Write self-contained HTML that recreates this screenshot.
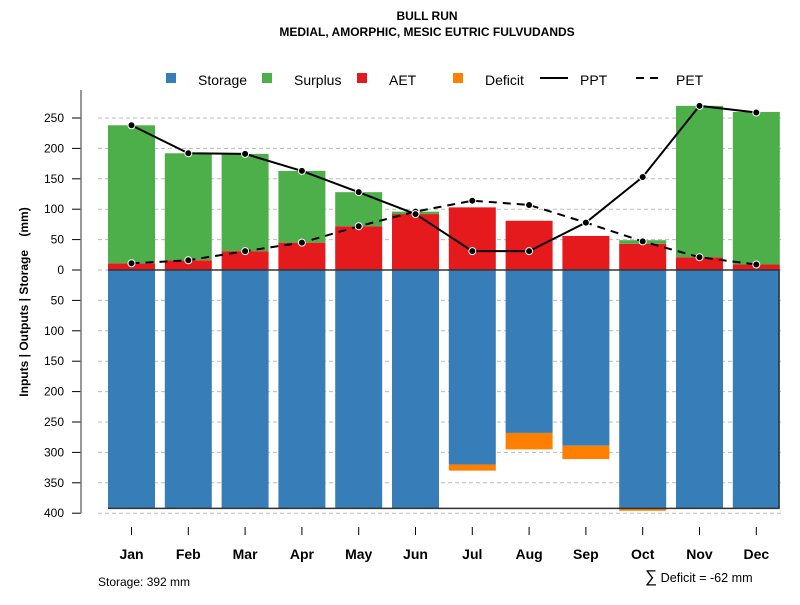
<!DOCTYPE html>
<html><head><meta charset="utf-8"><style>
body{margin:0;background:#fff;width:800px;height:600px;overflow:hidden;font-family:"Liberation Sans",sans-serif}
</style></head><body>
<svg id="c" width="800" height="600" xmlns="http://www.w3.org/2000/svg" font-family="Liberation Sans, sans-serif">
<text x="427" y="20" font-size="12" font-weight="bold" text-anchor="middle">BULL RUN</text>
<text x="427" y="36" font-size="12" font-weight="bold" text-anchor="middle">MEDIAL, AMORPHIC, MESIC EUTRIC FULVUDANDS</text>
<g id="grid"></g><g id="bars"></g><g id="lines"></g><g id="axes"></g>
<g font-size="14">
<rect x="166" y="73" width="10" height="10" fill="#377eb8"/><text x="198" y="85">Storage</text>
<rect x="262" y="73" width="10" height="10" fill="#4daf4a"/><text x="294" y="85">Surplus</text>
<rect x="357" y="73" width="10" height="10" fill="#e41a1c"/><text x="389" y="85">AET</text>
<rect x="453" y="73" width="10" height="10" fill="#ff7f00"/><text x="485" y="85">Deficit</text>
<line x1="540" y1="78" x2="568" y2="78" stroke="#000" stroke-width="2"/><text x="580" y="85">PPT</text>
<line x1="636" y1="78" x2="664" y2="78" stroke="#000" stroke-width="2" stroke-dasharray="8,6"/><text x="676" y="85">PET</text>
</g>
<text x="28" y="302" font-size="12" font-weight="bold" text-anchor="middle" transform="rotate(-90 28 302)">Inputs | Outputs | Storage&#160;&#160;&#160;&#160;(mm)</text>
<text x="98" y="586" font-size="12">Storage: 392 mm</text>
<text x="645" y="582" font-size="12.6"><tspan font-size="17">∑</tspan> Deficit = -62 mm</text>
</svg>
<script>
const months=["Jan","Feb","Mar","Apr","May","Jun","Jul","Aug","Sep","Oct","Nov","Dec"];
const ppt=[238,192,191,163,128,92,31,31,78,153,270,259];
const pet=[11,16,31,45,72,96,114,107,78,47,21,9];
const aet=[11,16,31,45,72,92,103,81,56,43,21,9];
const surplus=[227,176,160,118,56,4,0,0,0,6,249,251];
const storage=[392,392,392,392,392,392,320,268,289,392,392,392];
const deficit=[0,0,0,0,0,0,10,27,22,4,0,0];
const yTicks=[250,200,150,100,50,0,50,100,150,200,250,300,350,400];
const yVals=[250,200,150,100,50,0,-50,-100,-150,-200,-250,-300,-350,-400];
const NS="http://www.w3.org/2000/svg";
const y=v=>270-v*0.608;
const x=i=>131.5+i*56.8;
const bw=47;
function mk(p,t,a){const e=document.createElementNS(NS,t);for(const k in a)e.setAttribute(k,a[k]);document.getElementById(p).appendChild(e);return e;}
yVals.forEach((v,i)=>{
 let g=mk('grid','line',{x1:98,x2:781,y1:y(v),y2:y(v),stroke:'#bbb','stroke-dasharray':'4,3'});
 
 
 let t=mk('axes','line',{x1:72,x2:81,y1:y(v),y2:y(v),stroke:'#000'});
 
 
 let l=mk('axes','text',{x:64,y:y(v)+4,'font-size':12,'text-anchor':'end'});l.textContent=yTicks[i];
 
 
});
let ax=mk('axes','line',{x1:81,x2:81,y1:90,y2:y(-400),stroke:'#777','stroke-width':1.5});


months.forEach((m,i)=>{
 const L=x(i)-bw/2;
 let s=mk('bars','rect',{x:L,y:y(0),width:bw,height:y(-storage[i])-y(0),fill:'#377eb8'});
 
 
 if(deficit[i]>0){let d=mk('bars','rect',{x:L,y:y(-storage[i]),width:bw,height:y(-storage[i]-deficit[i])-y(-storage[i]),fill:'#ff7f00'});
 
 }
 let a=mk('bars','rect',{x:L,y:y(aet[i]),width:bw,height:y(0)-y(aet[i]),fill:'#e41a1c'});
 
 
 if(surplus[i]>0){let u=mk('bars','rect',{x:L,y:y(aet[i]+surplus[i]),width:bw,height:y(aet[i])-y(aet[i]+surplus[i]),fill:'#4daf4a'});
 
 }
 let tk=mk('axes','line',{x1:x(i),x2:x(i),y1:527,y2:535,stroke:'#000'});
 
 
 let tl=mk('axes','text',{x:x(i),y:559,'font-size':14,'font-weight':'bold','text-anchor':'middle'});tl.textContent=m;
 
 
});
let bx=mk('bars','path',{d:`M108 ${y(0)} H779 V${y(-392)} H108`,fill:'none',stroke:'#333','stroke-width':1.5});


function series(arr,name,dash){
 let d=arr.map((v,i)=>(i?'L':'M')+x(i)+' '+y(v)).join(' ');
 let p=mk('lines','path',Object.assign({d:d,fill:'none',stroke:'#000','stroke-width':2},dash?{'stroke-dasharray':'8,6'}:{}));
 
 
 arr.forEach((v,i)=>{let c=mk('lines','circle',{cx:x(i),cy:y(v),r:3.5,fill:'#000',stroke:'#fff','stroke-width':1});
 
 });
}
series(pet,'pet',true);
series(ppt,'ppt',false);
</script>
</body></html>
